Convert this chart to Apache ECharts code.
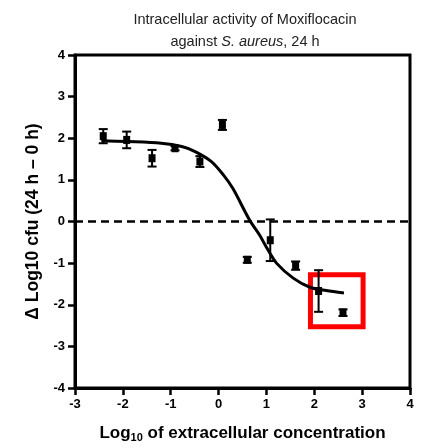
<!DOCTYPE html>
<html>
<head>
<meta charset="utf-8">
<script src="https://cdn.jsdelivr.net/npm/echarts@6/dist/echarts.min.js"></script>
<style>
  html, body { margin: 0; padding: 0; background: #fff; }
  #main { width: 424px; height: 448px; }
</style>
</head>
<body>
<div id="main"></div>
<script>
// measured points: log10 concentration, delta log10 cfu, error (sd)
var concX = [-2.41, -1.92, -1.39, -0.91, -0.39, 0.08, 0.60, 1.08, 1.61, 2.09, 2.60];
var deltaY = [2.05, 1.96, 1.52, 1.76, 1.44, 2.32, -0.92, -0.45, -1.06, -1.67, -2.19];
var errY = [0.17, 0.20, 0.20, 0.05, 0.13, 0.12, 0.07, 0.50, 0.10, 0.50, 0.08];

// fitted curve
var curveX = [-2.45, -1.9, -1.2, -0.77, -0.49, -0.15, 0.1, 0.3, 0.65, 0.86, 1.0, 1.21, 1.56, 1.91, 2.25, 2.62];
var curveY = [1.94, 1.92, 1.88, 1.80, 1.68, 1.44, 1.12, 0.79, 0.03, -0.33, -0.62, -1.0, -1.36, -1.58, -1.66, -1.72];

// highlighted region (red box)
var boxX = [1.92, 3.02];
var boxY = [-1.28, -2.53];

var points = concX.map(function (x, i) { return [x, deltaY[i], errY[i]]; });
var curve = curveX.map(function (x, i) { return [x, curveY[i]]; });

var chart = echarts.init(document.getElementById('main'));

var font = 'Liberation Sans, Arial, sans-serif';

var option = {
  animation: false,
  title: {
    text: 'Intracellular activity of Moxiflocacin\nagainst {i|S. aureus}, 24 h',
    left: 240,
    textAlign: 'center',
    top: 4,
    textStyle: {
      fontFamily: font,
      fontSize: 14.5,
      fontWeight: 'normal',
      color: '#222',
      lineHeight: 22,
      rich: {
        i: { fontFamily: font, fontSize: 14.5, fontStyle: 'italic', color: '#222', lineHeight: 22 }
      }
    }
  },
  grid: {
    left: 75, right: 14, top: 55, bottom: 57,
    show: true,
    borderColor: '#000',
    borderWidth: 3
  },
  xAxis: {
    type: 'value',
    min: -3, max: 4, interval: 1,
    name: 'Log{sub|10} of extracellular concentration',
    nameLocation: 'middle',
    nameGap: 35,
    nameTextStyle: {
      fontFamily: font,
      fontSize: 17, fontWeight: 'bold', color: '#000',
      rich: {
        sub: { fontFamily: font, fontSize: 11, fontWeight: 'bold', color: '#000', verticalAlign: 'bottom', padding: [9, 0, 0, 0] }
      }
    },
    axisLine: { show: true, onZero: false, lineStyle: { color: '#000', width: 3 } },
    axisTick: { show: true, length: 7, lineStyle: { color: '#000', width: 2.5 } },
    axisLabel: { fontFamily: font, fontSize: 13, fontWeight: 'bold', color: '#000', margin: 10 },
    splitLine: { show: false }
  },
  yAxis: {
    type: 'value',
    min: -4, max: 4, interval: 1,
    name: 'Δ Log10 cfu (24 h – 0 h)',
    nameLocation: 'middle',
    nameGap: 29,
    nameTextStyle: { fontFamily: font, fontSize: 17.5, fontWeight: 'bold', color: '#000' },
    axisLine: { show: true, onZero: false, lineStyle: { color: '#000', width: 3 } },
    axisTick: { show: true, length: 7, lineStyle: { color: '#000', width: 2.5 } },
    axisLabel: { fontFamily: font, fontSize: 13, fontWeight: 'bold', color: '#000', margin: 10 },
    splitLine: { show: false }
  },
  series: [
    {
      name: 'fit',
      type: 'line',
      data: curve,
      smooth: 0.3,
      symbol: 'none',
      lineStyle: { color: '#000', width: 3 },
      markLine: {
        silent: true,
        symbol: 'none',
        label: { show: false },
        lineStyle: { color: '#000', width: 2.5, type: [8, 5] },
        data: [{ yAxis: 0 }]
      },
      markArea: {
        silent: true,
        itemStyle: { color: 'rgba(0,0,0,0)', borderColor: '#ff0000', borderWidth: 5 },
        data: [[{ coord: [boxX[0], boxY[0]] }, { coord: [boxX[1], boxY[1]] }]]
      },
      z: 3
    },
    {
      name: 'error',
      type: 'custom',
      data: points,
      renderItem: function (params, api) {
        var x = api.value(0), y = api.value(1), e = api.value(2);
        var hi = api.coord([x, y + e]);
        var lo = api.coord([x, y - e]);
        var c = api.coord([x, y]);
        var w = 4.5;
        var st = { stroke: '#000', lineWidth: 2 };
        return {
          type: 'group',
          children: [
            { type: 'line', shape: { x1: hi[0], y1: hi[1], x2: lo[0], y2: lo[1] }, style: st },
            { type: 'line', shape: { x1: hi[0] - w, y1: hi[1], x2: hi[0] + w, y2: hi[1] }, style: st },
            { type: 'line', shape: { x1: lo[0] - w, y1: lo[1], x2: lo[0] + w, y2: lo[1] }, style: st },
            { type: 'rect', shape: { x: c[0] - 3.5, y: c[1] - 4, width: 7, height: 8 }, style: { fill: '#000' } }
          ]
        };
      },
      z: 4
    }
  ]
};

chart.setOption(option);
</script>
</body>
</html>
